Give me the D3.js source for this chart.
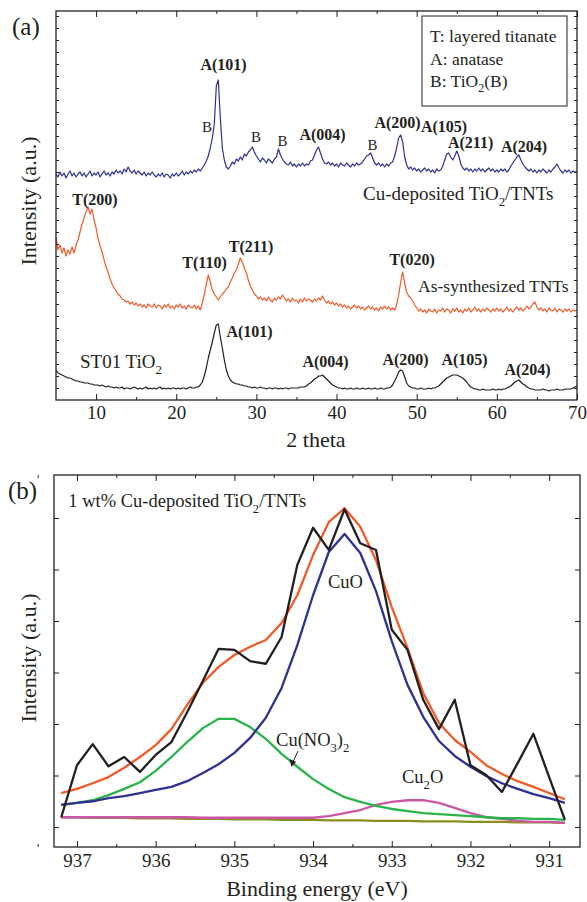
<!DOCTYPE html>
<html>
<head>
<meta charset="utf-8">
<script src="https://cdn.jsdelivr.net/npm/d3@7"></script>
<style>
body { margin: 0; background: #fff; }
svg text { font-family: "Liberation Serif", "Times New Roman", serif; fill: #231f20; }
</style>
</head>
<body>
<script>
// (a) XRD patterns, 2 theta from 5 to 70 deg, one reading every 0.25 deg
var thetaStart = 5, thetaStep = 0.25;

var cuTNTs = [
  226, 223, 228, 224, 227, 222, 226, 229, 224, 227, 223, 226, 228, 224, 227, 223,
  226, 229, 224, 227, 225, 228, 223, 226, 229, 225, 227, 224, 228, 226, 230, 227,
  229, 226, 231, 228, 233, 229, 227, 230, 226, 229, 227, 225, 228, 224, 227, 225,
  228, 225, 223, 226, 224, 227, 223, 226, 225, 222, 226, 224, 227, 224, 226, 229,
  225, 228, 226, 229, 227, 230, 228, 231, 229, 232, 235, 239, 244, 252, 262, 276,
  314, 320, 282, 252, 240, 233, 231, 234, 238, 236, 241, 239, 243, 240, 246, 244,
  248, 250, 253, 248, 244, 241, 238, 242, 240, 237, 241, 239, 237, 241, 243, 251,
  245, 241, 238, 236, 235, 238, 234, 236, 233, 236, 234, 237, 234, 236, 235, 239,
  240, 245, 250, 253, 247, 241, 237, 236, 238, 235, 237, 234, 236, 233, 237, 235,
  234, 237, 235, 233, 236, 234, 237, 235, 236, 238, 241, 244, 245, 247, 242, 237,
  235, 237, 234, 236, 233, 236, 234, 237, 238, 244, 252, 262, 265, 258, 243, 235,
  231, 233, 230, 232, 229, 231, 228, 230, 232, 229, 231, 228, 230, 227, 231, 229,
  230, 234, 240, 246, 247, 243, 240, 244, 249, 244, 236, 232, 230, 232, 229, 231,
  228, 231, 229, 232, 229, 231, 228, 230, 232, 229, 231, 228, 230, 228, 231, 229,
  231, 228, 230, 234, 237, 240, 243, 245, 240, 236, 233, 231, 229, 231, 228, 230,
  227, 230, 228, 231, 229, 227, 230, 228, 231, 233, 236, 232, 229, 227, 230, 228,
  230, 227, 229, 228, 228
];

var asTNTs = [
  163, 150, 155, 147, 152, 144, 150, 146, 153, 147, 155, 160, 168, 176, 182, 188,
  193, 186, 191, 180, 172, 161, 154, 148, 140, 133, 128, 121, 116, 112, 109, 106,
  104, 101, 100, 98, 99, 96, 98, 95, 97, 94, 96, 93, 95, 92, 96, 94,
  93, 96, 92, 95, 94, 91, 95, 93, 96, 92, 94, 91, 95, 93, 96, 92,
  94, 91, 95, 93, 92, 95, 91, 94, 90, 97, 105, 116, 125, 118, 110, 106,
  103, 100, 103, 106, 108, 111, 113, 118, 122, 127, 130, 136, 142, 138, 132, 127,
  120, 114, 110, 106, 104, 101, 103, 100, 102, 99, 103, 100, 98, 102, 100, 103,
  101, 105, 102, 99, 101, 98, 102, 99, 100, 97, 101, 98, 102, 99, 101, 100,
  98, 101, 99, 102, 100, 104, 100, 97, 99, 96, 98, 95, 97, 94, 96, 93,
  95, 92, 94, 91, 93, 95, 92, 94, 91, 93, 90, 92, 94, 91, 93, 90,
  92, 89, 93, 91, 94, 91, 93, 90, 92, 90, 95, 105, 118, 128, 117, 108,
  104, 102, 99, 95, 92, 89, 91, 88, 90, 87, 91, 89, 88, 91, 87, 90,
  89, 92, 88, 91, 90, 87, 91, 89, 92, 88, 90, 87, 91, 89, 92, 88,
  90, 93, 89, 91, 88, 91, 89, 92, 90, 88, 91, 89, 92, 89, 91, 88,
  90, 93, 89, 91, 88, 91, 93, 90, 92, 89, 91, 94, 91, 93, 96, 98,
  93, 90, 92, 89, 91, 88, 92, 90, 89, 92, 88, 91, 90, 88, 91, 89,
  91, 88, 90, 89, 90
];

var st01 = [
  30, 27, 26, 25, 24, 23, 22, 22, 21, 20, 19, 19, 18, 18, 17, 17,
  17, 16, 16, 15, 15, 15, 14, 15, 14, 13, 14, 13, 13, 12, 13, 12,
  12, 13, 11, 12, 12, 11, 12, 13, 12, 11, 12, 11, 12, 13, 11, 12,
  11, 12, 11, 12, 13, 11, 12, 11, 12, 11, 12, 12, 11, 12, 11, 12,
  12, 11, 12, 13, 12, 12, 13, 13, 15, 18, 24, 32, 42, 50, 58, 67,
  75, 76, 63, 52, 40, 30, 24, 20, 18, 17, 16, 16, 15, 15, 14, 14,
  13, 13, 12, 13, 12, 12, 13, 12, 12, 11, 12, 12, 11, 12, 12, 11,
  12, 11, 12, 12, 11, 12, 12, 12, 12, 12, 13, 13, 13, 14, 16, 17,
  19, 21, 22, 24, 24, 25, 23, 21, 19, 17, 15, 14, 13, 12, 12, 11,
  12, 11, 11, 12, 11, 11, 12, 11, 11, 12, 11, 11, 12, 11, 11, 12,
  11, 11, 12, 11, 11, 12, 12, 13, 15, 19, 23, 28, 30, 29, 23, 17,
  14, 13, 12, 12, 11, 11, 12, 11, 11, 11, 12, 11, 12, 12, 13, 14,
  16, 18, 20, 22, 23, 24, 25, 25, 25, 24, 23, 22, 20, 18, 15, 13,
  12, 11, 11, 10, 10, 11, 10, 10, 10, 10, 11, 10, 10, 11, 10, 11,
  11, 12, 13, 14, 16, 18, 19, 20, 18, 16, 15, 13, 12, 11, 11, 10,
  10, 10, 10, 11, 10, 10, 9, 10, 10, 10, 11, 10, 10, 10, 11, 11,
  11, 11, 12, 13, 14
];

// peak labels of (a): text, 2 theta, intensity, bold
var xrdLabels = [
  ['A(101)', 25.9, 330, true], ['B', 23.84, 268, false], ['B', 29.95, 258, false],
  ['B', 33.26, 254, false], ['A(004)', 38.25, 260, true], ['B', 44.49, 250, false],
  ['A(200)', 47.61, 272, true], ['A(105)', 53.41, 268, true], ['A(211)', 56.72, 252, true],
  ['A(204)', 63.39, 248, true],
  ['T(200)', 9.87, 195, true], ['T(110)', 23.53, 132, true], ['T(211)', 29.33, 148, true],
  ['T(020)', 49.42, 135, true],
  ['A(101)', 29.14, 63, true], ['A(004)', 38.63, 33, true], ['A(200)', 48.61, 35, true],
  ['A(105)', 55.97, 35, true], ['A(204)', 63.83, 25, true]
];

// (b) XPS Cu 2p, binding energy (eV)
var energy = [937.2, 937.0, 936.8, 936.6, 936.4, 936.2, 936.0, 935.8, 935.6, 935.4, 935.2,
  935.0, 934.8, 934.6, 934.4, 934.2, 934.0, 933.8, 933.6, 933.4, 933.2, 933.0, 932.8,
  932.6, 932.4, 932.2, 932.0, 931.8, 931.6, 931.4, 931.2, 931.0, 930.8];
var measured = [0.19, 1.20, 1.61, 1.18, 1.36, 1.07, 1.40, 1.65, 2.23, 2.84, 3.46,
  3.44, 3.22, 3.17, 3.69, 5.09, 5.81, 5.38, 6.17, 5.51, 5.38, 3.83, 3.44,
  2.47, 1.90, 2.47, 1.20, 1.01, 0.68, 1.24, 1.81, 0.97, 0.14];
var envelope = [0.66, 0.74, 0.85, 0.97, 1.15, 1.36, 1.59, 1.90, 2.37, 2.80, 3.11,
  3.34, 3.50, 3.63, 3.96, 4.50, 5.28, 5.92, 6.19, 5.83, 5.18, 4.27, 3.48,
  2.60, 2.02, 1.69, 1.46, 1.20, 1.03, 0.89, 0.78, 0.66, 0.54];
var cuO = [0.43, 0.47, 0.50, 0.56, 0.60, 0.66, 0.72, 0.78, 0.89, 1.05, 1.22,
  1.44, 1.73, 2.12, 2.70, 3.53, 4.50, 5.34, 5.69, 5.32, 4.58, 3.61, 2.76,
  2.14, 1.67, 1.38, 1.17, 0.99, 0.85, 0.74, 0.64, 0.56, 0.47];
var cuNO3 = [0.43, 0.47, 0.52, 0.62, 0.74, 0.87, 1.09, 1.36, 1.65, 1.92, 2.10,
  2.10, 1.94, 1.71, 1.42, 1.17, 0.93, 0.74, 0.58, 0.49, 0.41, 0.35, 0.31,
  0.27, 0.25, 0.23, 0.21, 0.19, 0.17, 0.17, 0.16, 0.16, 0.14];
var cu2O = [0.19, 0.19, 0.19, 0.19, 0.19, 0.19, 0.19, 0.19, 0.19, 0.18, 0.18,
  0.18, 0.18, 0.18, 0.18, 0.18, 0.18, 0.21, 0.27, 0.33, 0.43, 0.49, 0.52,
  0.52, 0.47, 0.37, 0.27, 0.19, 0.16, 0.12, 0.10, 0.10, 0.08];
var background = [0.19, 0.19, 0.18, 0.18, 0.18, 0.17, 0.17, 0.17, 0.16, 0.16, 0.16,
  0.15, 0.15, 0.15, 0.14, 0.14, 0.14, 0.13, 0.13, 0.13, 0.12, 0.12, 0.12,
  0.11, 0.11, 0.11, 0.10, 0.10, 0.10, 0.09, 0.09, 0.09, 0.08];

var ink = '#231f20';

var svg = d3.select('body').append('svg')
    .attr('width', 587)
    .attr('height', 902)

// subscripts are written as _x
function richText(sel, str, size) {
  var parts = str.split(/_(.)/);
  parts.forEach(function (p, i) {
    if (p === '') return;
    var t = sel.append('tspan').text(p);
    if (i % 2 === 1) t.attr('dy', size * 0.3).attr('font-size', size * 0.68);
    else if (i > 0) t.attr('dy', -size * 0.3);
  });
}

function frameAxes(g, x, y, opt) {
  var b = y.range()[0], t = y.range()[1], l = x.range()[0], r = x.range()[1];
  var ax = g.append('g').attr('color', ink);
  ax.append('g').attr('transform', 'translate(0,' + b + ')')
    .call(d3.axisBottom(x).tickValues(opt.major).tickSizeInner(-6).tickSizeOuter(0)
      .tickPadding(opt.pad).tickFormat(d3.format('d')));
  ax.append('g').attr('transform', 'translate(0,' + b + ')')
    .call(d3.axisBottom(x).tickValues(opt.minor).tickSizeInner(-3).tickSizeOuter(0).tickFormat(''));
  ax.append('g').attr('transform', 'translate(0,' + t + ')')
    .call(d3.axisTop(x).tickValues(opt.major).tickSizeInner(-6).tickSizeOuter(0).tickFormat(''));
  ax.append('g').attr('transform', 'translate(0,' + t + ')')
    .call(d3.axisTop(x).tickValues(opt.minor).tickSizeInner(-3).tickSizeOuter(0).tickFormat(''));
  ax.append('g').attr('transform', 'translate(' + l + ',0)')
    .call(d3.axisLeft(y).tickValues(opt.yticks).tickSizeInner(-opt.ylen).tickSizeOuter(0).tickFormat(''));
  ax.append('g').attr('transform', 'translate(' + r + ',0)')
    .call(d3.axisRight(y).tickValues(opt.yticks).tickSizeInner(-opt.ylen).tickSizeOuter(0).tickFormat(''));
  ax.selectAll('.domain').remove();
  ax.selectAll('.tick line').attr('stroke-width', 1);
  ax.selectAll('text').attr('font-size', 19).attr('font-family', '"Liberation Serif", serif');
  g.append('rect')
    .attr('x', l).attr('y', t).attr('width', r - l).attr('height', b - t)
    .attr('fill', 'none').attr('stroke', ink).attr('stroke-width', 1.3);
}

// ---------- panel (a) ----------
var xa = d3.scaleLinear().domain([5, 70]).range([56, 577]);
var ya = d3.scaleLinear().domain([0, 389]).range([400, 11]);
var ga = svg.append('g');

var lineA = d3.line()
    .x(function (d, i) { return xa(thetaStart + i * thetaStep) })
    .y(function (d) { return ya(d) });

var xrd = [
  { values: cuTNTs, color: '#2e3192' },
  { values: asTNTs, color: '#f15a29' },
  { values: st01, color: ink }
];
ga.selectAll('path.xrd')
    .data(xrd)
    .enter().append('path')
    .attr('class', 'xrd')
    .attr('fill', 'none')
    .attr('stroke', function (d) { return d.color })
    .attr('stroke-width', 1.2)
    .attr('stroke-linejoin', 'round')
    .attr('d', function (d) { return lineA(d.values) });

frameAxes(ga, xa, ya, {
  major: d3.range(10, 71, 10), minor: d3.range(15, 70, 10),
  yticks: d3.range(12, 389, 12), ylen: 3, pad: 6
});

ga.selectAll('text.peak')
    .data(xrdLabels)
    .enter().append('text')
    .attr('class', 'peak')
    .attr('x', function (d) { return xa(d[1]) })
    .attr('y', function (d) { return ya(d[2]) })
    .attr('text-anchor', 'middle')
    .attr('font-weight', function (d) { return d[3] ? 'bold' : 'normal' })
    .attr('font-size', function (d) { return d[3] ? 16 : 15 })
    .text(function (d) { return d[0] });

var sampleNames = [
  ['Cu-deposited TiO_2/TNTs', 43.3, 200, 19],
  ['As-synthesized TNTs', 50.17, 108, 17.5],
  ['ST01 TiO_2', 7.99, 32, 19]
];
sampleNames.forEach(function (d) {
  richText(ga.append('text').attr('x', xa(d[1])).attr('y', ya(d[2])).attr('font-size', d[3]), d[0], d[3]);
});

// legend box
var legendLines = ['T: layered titanate', 'A: anatase', 'B: TiO_2(B)'];
ga.append('rect')
    .attr('x', 422).attr('y', 16).attr('width', 145).attr('height', 90)
    .attr('fill', '#fff').attr('stroke', ink).attr('stroke-width', 1);
legendLines.forEach(function (s, i) {
  richText(ga.append('text').attr('x', 430).attr('y', 42 + i * 22.5).attr('font-size', 17.5), s, 17.5);
});

ga.append('text').attr('x', 12).attr('y', 35).attr('font-size', 25).text('(a)');
ga.append('text').attr('x', 316).attr('y', 447).attr('text-anchor', 'middle')
    .attr('font-size', 22).text('2 theta');
ga.append('text').attr('transform', 'translate(36,201) rotate(-90)')
    .attr('text-anchor', 'middle').attr('font-size', 22).text('Intensity (a.u.)');

// ---------- panel (b) ----------
var xb = d3.scaleLinear().domain([937.292, 930.608]).range([54, 580]);
var yb = d3.scaleLinear().domain([-0.388, 6.835]).range([847, 475]);
var gb = svg.append('g');

var lineB = d3.line()
    .x(function (d, i) { return xb(energy[i]) })
    .y(function (d) { return yb(d) });

var xps = [
  { values: background, color: '#8c8c1e' },
  { values: cu2O, color: '#c957a6' },
  { values: cuNO3, color: '#2bb34b' },
  { values: cuO, color: '#2e3192' },
  { values: envelope, color: '#f15a29' },
  { values: measured, color: ink }
];
gb.selectAll('path.xps')
    .data(xps)
    .enter().append('path')
    .attr('class', 'xps')
    .attr('fill', 'none')
    .attr('stroke', function (d) { return d.color })
    .attr('stroke-width', 2.3)
    .attr('stroke-linejoin', 'round')
    .attr('d', function (d) { return lineB(d.values) });

frameAxes(gb, xb, yb, {
  major: d3.range(931, 938, 1), minor: d3.range(931.5, 937.6, 1),
  yticks: d3.range(0, 6.9, 1), ylen: 5, pad: 7
});

var xpsLabels = [
  ['1 wt% Cu-deposited TiO_2/TNTs', 937.11, 6.21],
  ['CuO', 933.81, 4.64],
  ['Cu(NO_3)_2', 934.47, 1.57],
  ['Cu_2O', 932.87, 0.85]
];
xpsLabels.forEach(function (d) {
  richText(gb.append('text').attr('x', xb(d[1])).attr('y', yb(d[2])).attr('font-size', 18.5), d[0], 18.5);
});

// arrow to the Cu(NO3)2 curve
gb.append('line')
    .attr('x1', 298).attr('y1', 751).attr('x2', 293).attr('y2', 762)
    .attr('stroke', ink).attr('stroke-width', 1);
gb.append('path')
    .attr('d', 'M289.5,759 L296,761.8 L291.5,767 Z')
    .attr('fill', ink);

gb.append('text').attr('x', 8).attr('y', 499).attr('font-size', 25).text('(b)');
gb.append('text').attr('x', 317).attr('y', 896).attr('text-anchor', 'middle')
    .attr('font-size', 22).text('Binding energy (eV)');
gb.append('text').attr('transform', 'translate(36,658) rotate(-90)')
    .attr('text-anchor', 'middle').attr('font-size', 22).text('Intensity (a.u.)');
</script>
</body>
</html>
